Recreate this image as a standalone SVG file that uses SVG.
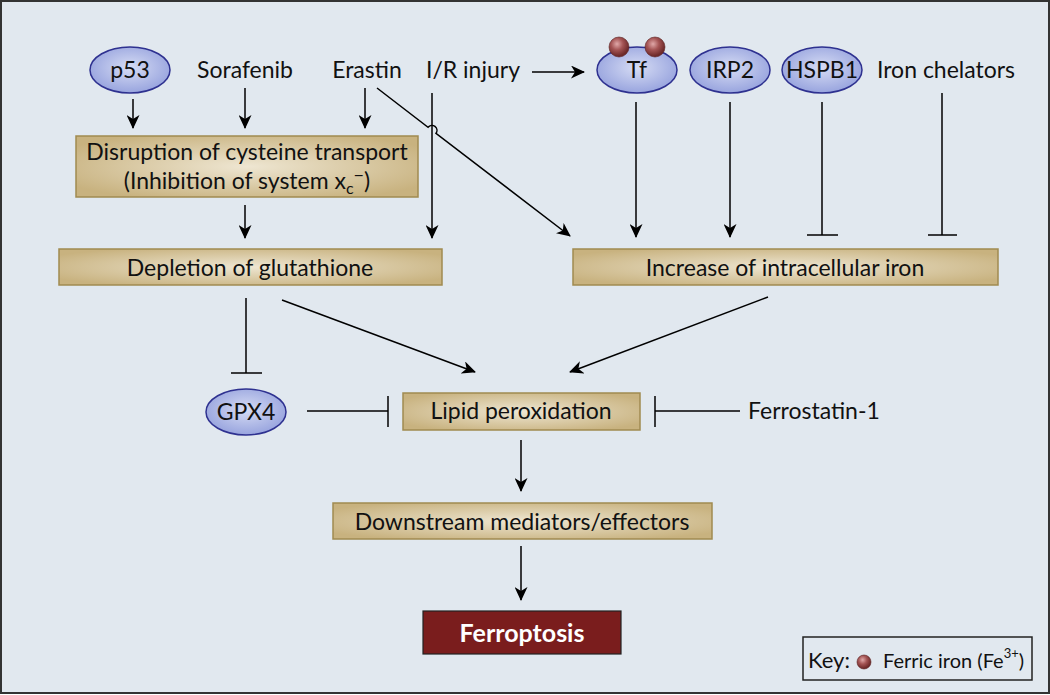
<svg xmlns="http://www.w3.org/2000/svg" width="1050" height="695" viewBox="0 0 1050 695">
<defs>
<radialGradient id="gBox" cx="50%" cy="50%" r="60%">
<stop offset="0" stop-color="#eee6d2"/>
<stop offset="1" stop-color="#c8b27f"/>
</radialGradient>
<radialGradient id="gEll" cx="50%" cy="45%" r="55%">
<stop offset="0" stop-color="#d6dcf4"/>
<stop offset="1" stop-color="#98a4de"/>
</radialGradient>
<radialGradient id="gFe" cx="40%" cy="35%" r="60%">
<stop offset="0" stop-color="#e0a8a8"/>
<stop offset="0.5" stop-color="#a45454"/>
<stop offset="1" stop-color="#6e2a2a"/>
</radialGradient>
<marker id="arr" markerUnits="userSpaceOnUse" markerWidth="15" markerHeight="13" refX="13" refY="6.5" orient="auto">
<path d="M0,0 L14,6.5 L0,13 L4,6.5 z" fill="#000"/>
</marker>
</defs>
<style>
text{font-family:Lato,"Open Sans","Liberation Sans",sans-serif;font-size:23px;fill:#111}
.box{fill:url(#gBox);stroke:#a08a50;stroke-width:1.5}
.ell{fill:url(#gEll);stroke:#2e3190;stroke-width:1.5}
.fe{fill:url(#gFe);stroke:#5a2020;stroke-width:0.6}
.c{text-anchor:middle}
.ln{stroke:#000;stroke-width:1.5;fill:none}
.ar{marker-end:url(#arr)}
</style>
<rect x="1" y="1" width="1048" height="692" fill="#e1e8ef" stroke="#333" stroke-width="2"/>

<g id="connectors">
<line class="ln ar" x1="133" y1="99" x2="133" y2="128"/>
<line class="ln ar" x1="245" y1="88" x2="245" y2="128"/>
<line class="ln ar" x1="365" y1="88" x2="365" y2="128"/>
<line class="ln ar" x1="432" y1="93" x2="432" y2="238"/>
<path class="ln ar" d="M377,88 L428.04,127.25 A5,5 0 0 1 435.96,133.35 L570,236"/>
<line class="ln ar" x1="532" y1="72" x2="584" y2="72"/>
<line class="ln ar" x1="245" y1="205" x2="245" y2="238"/>
<line class="ln ar" x1="636" y1="102" x2="636" y2="237"/>
<line class="ln ar" x1="730" y1="102" x2="730" y2="237"/>
<line class="ln" x1="822" y1="102" x2="822" y2="235"/>
<line class="ln" x1="807" y1="235" x2="838" y2="235"/>
<line class="ln" x1="942" y1="93" x2="942" y2="235"/>
<line class="ln" x1="928" y1="235" x2="957" y2="235"/>
<line class="ln" x1="246" y1="298" x2="246" y2="373"/>
<line class="ln" x1="231" y1="373" x2="262" y2="373"/>
<line class="ln ar" x1="282" y1="300" x2="475" y2="372"/>
<line class="ln ar" x1="768" y1="297" x2="570" y2="372"/>
<line class="ln" x1="307" y1="411" x2="388" y2="411"/>
<line class="ln" x1="388" y1="396" x2="388" y2="427"/>
<line class="ln" x1="740" y1="411" x2="655" y2="411"/>
<line class="ln" x1="655" y1="396" x2="655" y2="427"/>
<line class="ln ar" x1="521" y1="440" x2="521" y2="491"/>
<line class="ln ar" x1="521" y1="546" x2="521" y2="600"/>
</g>

<g id="p53"><ellipse class="ell" cx="130" cy="70" rx="40" ry="23"/><text class="c" x="130" y="78">p53</text></g>
<g id="sorafenib"><text class="c" x="245" y="78">Sorafenib</text></g>
<g id="erastin"><text class="c" x="367" y="78">Erastin</text></g>
<g id="ir-injury"><text class="c" x="473" y="78">I/R injury</text></g>
<g id="tf">
<ellipse class="ell" cx="637" cy="70" rx="40" ry="23"/>
<circle class="fe" cx="619" cy="47" r="10"/>
<circle class="fe" cx="655" cy="47" r="10"/>
<text class="c" x="637" y="78">Tf</text>
</g>
<g id="irp2"><ellipse class="ell" cx="730" cy="70" rx="40" ry="23"/><text class="c" x="730" y="78">IRP2</text></g>
<g id="hspb1"><ellipse class="ell" cx="822" cy="70" rx="40" ry="23"/><text class="c" x="822" y="78">HSPB1</text></g>
<g id="iron-chelators"><text class="c" x="946" y="78">Iron chelators</text></g>

<g id="disruption">
<rect class="box" x="76" y="136" width="342" height="61"/>
<text class="c" x="247" y="160">Disruption of cysteine transport</text>
<text class="c" x="247" y="189">(Inhibition of system x<tspan font-size="16" dy="5">c</tspan><tspan dy="-13" font-size="18">−</tspan><tspan dy="8">)</tspan></text>
</g>
<g id="depletion"><rect class="box" x="59" y="249" width="383" height="36"/><text class="c" x="250" y="276">Depletion of glutathione</text></g>
<g id="iron-increase"><rect class="box" x="573" y="249" width="425" height="36"/><text class="c" x="785" y="276">Increase of intracellular iron</text></g>
<g id="gpx4"><ellipse class="ell" cx="246" cy="412" rx="40" ry="23"/><text class="c" x="246" y="420">GPX4</text></g>
<g id="lipid"><rect class="box" x="403" y="393" width="237" height="37"/><text class="c" x="521" y="419">Lipid peroxidation</text></g>
<g id="ferrostatin"><text x="748" y="419">Ferrostatin-1</text></g>
<g id="downstream"><rect class="box" x="333" y="503" width="379" height="36"/><text class="c" x="522" y="530">Downstream mediators/effectors</text></g>
<g id="ferroptosis"><rect x="423" y="611" width="198" height="43" fill="#7a1d1d" stroke="#222" stroke-width="1.2"/><text class="c" x="522" y="642" style="fill:#fff;font-size:25px;font-weight:bold">Ferroptosis</text></g>
<g id="key">
<rect x="803" y="637" width="229" height="43" fill="none" stroke="#222" stroke-width="1.5"/>
<text x="808" y="668" style="font-size:22px">Key:</text>
<circle class="fe" cx="864" cy="662" r="7"/>
<text x="883" y="668" style="font-size:20px">Ferric iron (Fe<tspan font-size="13" dy="-10">3+</tspan><tspan dy="10">)</tspan></text>
</g>
</svg>
